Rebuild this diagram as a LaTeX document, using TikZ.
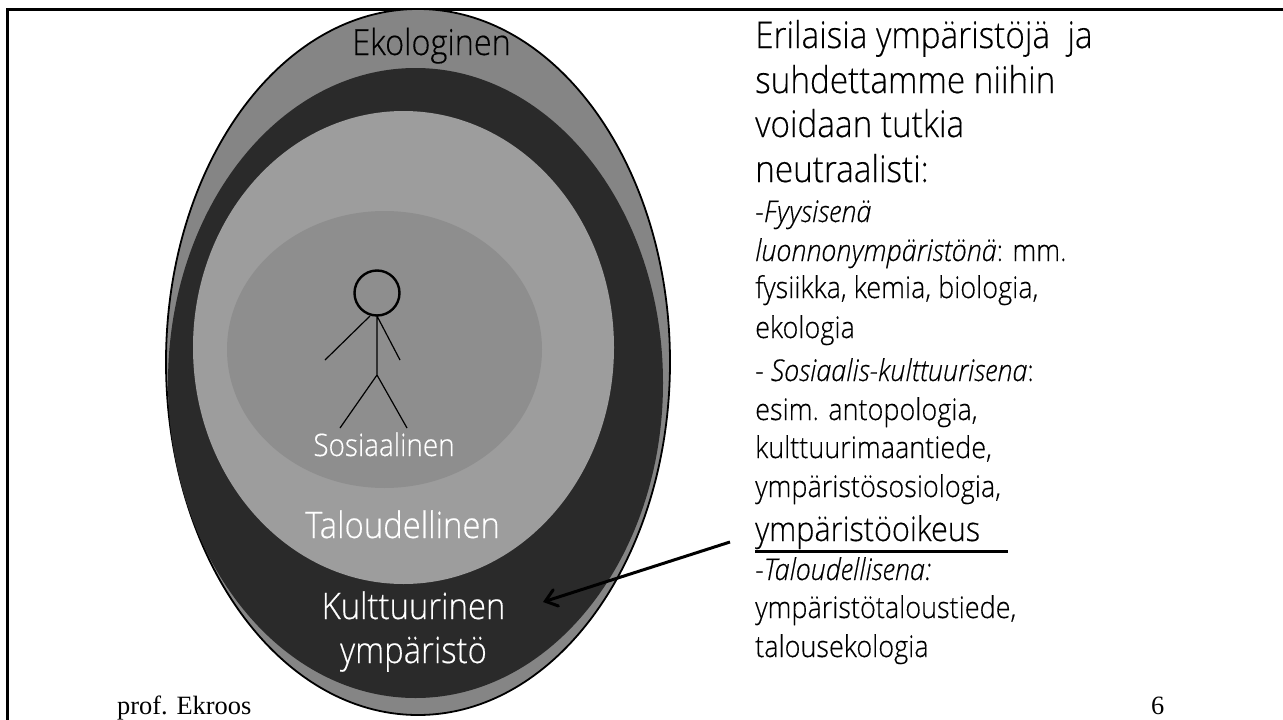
\documentclass[tikz,border=0pt]{standalone}
\usepackage{fontspec}
\usetikzlibrary{shapes.geometric,arrows.meta}
\setmainfont{Open Sans Light}[FakeStretch=0.9,FakeBold=0.35]
\newfontfamily\serifx{Liberation Serif}
\definecolor{ekoc}{gray}{0.52}
\definecolor{kulc}{gray}{0.165}
\definecolor{talc}{gray}{0.615}
\definecolor{sosc}{gray}{0.555}
\tikzset{
 blob/.style={ellipse,inner sep=0pt,outer sep=0pt,minimum width=#1},
 rline/.style={inner sep=0pt,anchor=base west,text=black},
 bigt/.style={rline,font=\fontsize{37}{37}\selectfont},
 smallt/.style={rline,font=\fontsize{30}{30}\selectfont},
 lab/.style={inner sep=0pt,anchor=base,font=\fontsize{#1}{#1}\selectfont},
 stick/.style={draw=black,line width=1.2pt},
 foot/.style={inner sep=0pt,anchor=base west,font=\serifx\fontsize{26.4}{26.4}\selectfont},
}
\begin{document}
\begin{tikzpicture}[x=1pt,y=-1pt]
\useasboundingbox (0,0) rectangle (1283,720);
\fill[white] (0,0) rectangle (1283,720);
\draw[line width=3pt] (7,720) -- (7,9.5) -- (1283,9.5);
\node[blob=504pt,minimum height=706pt,fill=ekoc,draw=black,line width=1.8pt] (eko) at (418,362) {};
\node[blob=495pt,minimum height=630pt,fill=kulc] (kul) at (415.5,383) {};
\node[blob=421pt,minimum height=473pt,fill=talc] (tal) at (403.5,347.5) {};
\node[blob=315pt,minimum height=277pt,fill=sosc] (sos) at (384.5,349.5) {};
\node[lab=36,text=black] (t1) at (431.5,55) {Ekologinen};
\node[lab=31,text=white] (t2) at (384,456) {Sosiaalinen};
\node[lab=36.5,text=white] (t3) at (402.5,538) {Taloudellinen};
\node[lab=36.5,text=white] (t4) at (413.5,619) {Kulttuurinen};
\node[lab=36.5,text=white] (t5) at (413.5,663) {ympäristö};
% stick figure
\node[ellipse,draw=black,line width=2.4pt,minimum width=45pt,minimum height=45pt,inner sep=0pt] (head) at (377,293) {};
\coordinate (neck) at (377,316);
\coordinate (hip) at (377,375);
\coordinate (lf) at (340,428);
\coordinate (rf) at (407,428);
\coordinate (la) at (325,360);
\coordinate (ra) at (400,360);
\coordinate (ls) at (370,316);
\draw[stick] (neck) -- (hip) -- (lf) (hip) -- (rf) (ls) -- (la) (neck) -- (ra);
% arrow
\coordinate (as) at (730,542);
\coordinate (ae) at (543,602);
\draw[line width=3pt,-{Straight Barb[length=11pt,width=17pt,line cap=round]}] (as) -- (ae);
% text
\node[bigt] (a1) at (755,48) {Erilaisia ympäristöjä\ \ ja};
\node[bigt] (a2) at (755,93) {suhdettamme niihin};
\node[bigt] (a3) at (755,137) {voidaan tutkia};
\node[bigt] (a4) at (755,182) {neutraalisti:};
\node[smallt] (a5) at (755,222) {-\textit{Fyysisenä}};
\node[smallt] (a6) at (755,261) {\textit{luonnonympäristönä}: mm.};
\node[smallt] (a7) at (755,298) {fysiikka, kemia, biologia,};
\node[smallt] (a8) at (755,338) {ekologia};
\node[smallt] (a9) at (755,381) {-\ \textit{Sosiaalis-kulttuurisena}:};
\node[smallt] (a10) at (755,420) {esim. antopologia,};
\node[smallt] (a11) at (755,458) {kulttuurimaantiede,};
\node[smallt] (a12) at (755,497) {ympäristösosiologia,};
\node[rline,font=\fontsize{34}{34}\selectfont] (a13) at (755,541) {ympäristöoikeus};
\draw[line width=2.4pt] (a13.base west |- 0,551.5) -- (1008,551.5);
\node[smallt] (a14) at (755,580) {-\textit{Taloudellisena:}};
\node[smallt] (a15) at (755,618) {ympäristötaloustiede,};
\node[smallt] (a16) at (755,657) {talousekologia};
% footer
\node[foot] (f1) at (117,714) {prof. Ekroos};
\node[foot] (f2) at (1151,714) {6};
\end{tikzpicture}
\end{document}
